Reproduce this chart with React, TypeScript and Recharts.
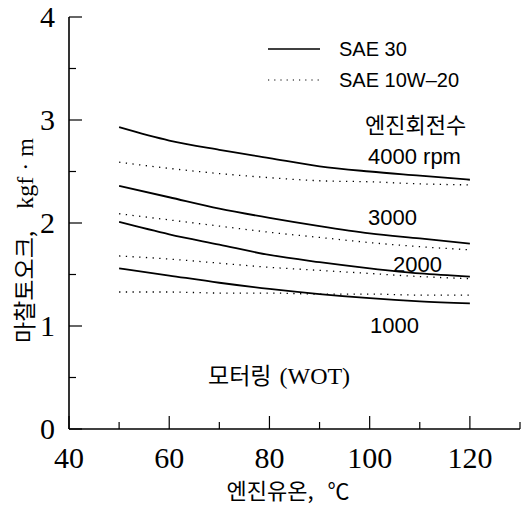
import React from 'react';
import { LineChart, Line, XAxis, YAxis, Legend, Customized } from 'recharts';

const temps = [50, 60, 70, 80, 90, 100, 110, 120];
const sae30_4000 = [2.93, 2.8, 2.71, 2.63, 2.55, 2.5, 2.46, 2.42];
const sae1020_4000 = [2.59, 2.53, 2.48, 2.44, 2.41, 2.4, 2.38, 2.37];
const sae30_3000 = [2.36, 2.25, 2.14, 2.05, 1.97, 1.9, 1.85, 1.8];
const sae1020_3000 = [2.09, 2.03, 1.97, 1.91, 1.86, 1.81, 1.77, 1.74];
const sae30_2000 = [2.01, 1.89, 1.79, 1.69, 1.62, 1.56, 1.51, 1.48];
const sae1020_2000 = [1.68, 1.65, 1.61, 1.57, 1.54, 1.51, 1.48, 1.46];
const sae30_1000 = [1.56, 1.49, 1.42, 1.36, 1.31, 1.27, 1.24, 1.22];
const sae1020_1000 = [1.33, 1.33, 1.32, 1.32, 1.31, 1.31, 1.3, 1.3];

const xTicks = [40, 50, 60, 70, 80, 90, 100, 110, 120, 130];
const xLabels = [40, 60, 80, 100, 120];
const yTicks = [0, 0.5, 1, 1.5, 2, 2.5, 3, 3.5, 4];
const yLabels = [0, 1, 2, 3, 4];

const solidKeys = ['s4000', 's3000', 's2000', 's1000'];
const dottedKeys = ['d4000', 'd3000', 'd2000', 'd1000'];

const rows = temps.map((t, i) => ({
  t,
  s4000: sae30_4000[i],
  d4000: sae1020_4000[i],
  s3000: sae30_3000[i],
  d3000: sae1020_3000[i],
  s2000: sae30_2000[i],
  d2000: sae1020_2000[i],
  s1000: sae30_1000[i],
  d1000: sae1020_1000[i],
}));

const SERIF = 'Liberation Serif';
const SANS = 'Liberation Sans';
const KR = 'Noto Sans CJK KR';

const BottomTick = (p: any) => {
  const { x, y, payload } = p;
  const major = xLabels.includes(payload.value);
  return (
    <g>
      <line x1={x} x2={x} y1={y} y2={y - (major ? 13 : 7)} stroke="#000" strokeWidth={1.2} />
      {major && (
        <text x={x} y={y + 39} textAnchor="middle" style={{ fontFamily: SERIF, fontSize: 30 }} fill="#000">
          {payload.value}
        </text>
      )}
    </g>
  );
};

const TopTick = (p: any) => {
  const { x, y, payload } = p;
  const major = xLabels.includes(payload.value);
  return <line x1={x} x2={x} y1={y} y2={y + (major ? 13 : 7)} stroke="#000" strokeWidth={1.2} />;
};

const LeftTick = (p: any) => {
  const { x, y, payload } = p;
  const major = yLabels.includes(payload.value);
  return (
    <g>
      <line x1={x} x2={x + (major ? 13 : 7)} y1={y} y2={y} stroke="#000" strokeWidth={1.2} />
      {major && (
        <text x={55} y={y + 10} textAnchor="end" style={{ fontFamily: SERIF, fontSize: 30 }} fill="#000">
          {payload.value}
        </text>
      )}
    </g>
  );
};

const RightTick = (p: any) => {
  const { x, y, payload } = p;
  const major = yLabels.includes(payload.value);
  return <line x1={x} x2={x - (major ? 13 : 7)} y1={y} y2={y} stroke="#000" strokeWidth={1.2} />;
};

const LegendBox = () => (
  <svg width={220} height={62}>
    <line x1={6} x2={58} y1={15} y2={15} stroke="#000" strokeWidth={1.6} />
    <text x={77} y={22} style={{ fontFamily: SANS, fontSize: 20 }} fill="#000">SAE 30</text>
    <line x1={6} x2={58} y1={46} y2={46} stroke="#000" strokeWidth={1.2} strokeDasharray="1.2 5" />
    <text x={77} y={53} style={{ fontFamily: SANS, fontSize: 20 }} fill="#000">SAE 10W–20</text>
  </svg>
);

const Annotations = () => (
  <g>
    <text x={365} y={133} style={{ fontFamily: KR, fontSize: 22 }} fill="#000">엔진회전수</text>
    <text x={368} y={164} style={{ fontFamily: SANS, fontSize: 22 }} fill="#000">4000 rpm</text>
    <text x={368} y={225} style={{ fontFamily: SANS, fontSize: 22 }} fill="#000">3000</text>
    <text x={393} y={272} style={{ fontFamily: SANS, fontSize: 22 }} fill="#000">2000</text>
    <text x={370} y={333} style={{ fontFamily: SANS, fontSize: 22 }} fill="#000">1000</text>
    <text x={208} y={384} fill="#000">
      <tspan style={{ fontFamily: KR, fontSize: 23 }}>모터링</tspan>
      <tspan style={{ fontFamily: SERIF, fontSize: 24 }} dx={8}>(WOT)</tspan>
    </text>
    <text x={288} y={499} textAnchor="middle" fill="#000">
      <tspan style={{ fontFamily: KR, fontSize: 22 }}>엔진유온,</tspan>
      <tspan style={{ fontFamily: KR, fontSize: 22 }} dx={14}>℃</tspan>
    </text>
    <text transform="translate(33,343) rotate(-90)" fill="#000">
      <tspan style={{ fontFamily: KR, fontSize: 23 }}>마찰토오크,</tspan>
      <tspan style={{ fontFamily: SERIF, fontSize: 24 }} dx={22}>kgf · m</tspan>
    </text>
  </g>
);

export default function App() {
  const axisLine = { stroke: '#000', strokeWidth: 1.6 };
  return (
    <div style={{ position: 'absolute', left: 0, top: 0, width: 521, height: 505, background: '#fff' }}>
      <LineChart width={521} height={505} data={rows} margin={{ top: 17, right: 1, left: 0, bottom: 0 }}>
        <XAxis
          xAxisId="b"
          dataKey="t"
          type="number"
          domain={[40, 130]}
          ticks={xTicks}
          interval={0}
          orientation="bottom"
          height={76}
          tickLine={false}
          tickSize={0}
          tickMargin={0}
          axisLine={axisLine}
          tick={(p: any) => <BottomTick {...p} />}
          allowDataOverflow
        />
        <XAxis
          xAxisId="t"
          dataKey="t"
          type="number"
          domain={[40, 130]}
          ticks={xTicks}
          interval={0}
          orientation="top"
          height={0}
          tickLine={false}
          tickSize={0}
          tickMargin={0}
          axisLine={axisLine}
          tick={(p: any) => <TopTick {...p} />}
          allowDataOverflow
        />
        <YAxis
          yAxisId="l"
          type="number"
          domain={[0, 4]}
          ticks={yTicks}
          interval={0}
          width={69}
          tickLine={false}
          tickSize={0}
          tickMargin={0}
          axisLine={axisLine}
          tick={(p: any) => <LeftTick {...p} />}
          allowDataOverflow
        />
        <YAxis
          yAxisId="r"
          orientation="right"
          type="number"
          domain={[0, 4]}
          ticks={yTicks}
          interval={0}
          width={0}
          tickLine={false}
          tickSize={0}
          tickMargin={0}
          axisLine={axisLine}
          tick={(p: any) => <RightTick {...p} />}
          allowDataOverflow
        />
        <Legend
          verticalAlign="middle"
          align="center"
          layout="horizontal"
          content={() => <LegendBox />}
          wrapperStyle={{ position: 'absolute', left: 262, top: 34, width: 220, height: 62 }}
        />
        {solidKeys.map((k) => (
          <Line
            key={k}
            xAxisId="b"
            yAxisId="l"
            dataKey={k}
            type="monotone"
            stroke="#000"
            strokeWidth={1.8}
            dot={false}
            activeDot={false}
            isAnimationActive={false}
            legendType="none"
          />
        ))}
        {dottedKeys.map((k) => (
          <Line
            key={k}
            xAxisId="b"
            yAxisId="l"
            dataKey={k}
            type="monotone"
            stroke="#000"
            strokeWidth={1.3}
            strokeDasharray="1.3 5.4"
            dot={false}
            activeDot={false}
            isAnimationActive={false}
            legendType="none"
          />
        ))}
        <Customized component={Annotations} />
      </LineChart>
    </div>
  );
}
